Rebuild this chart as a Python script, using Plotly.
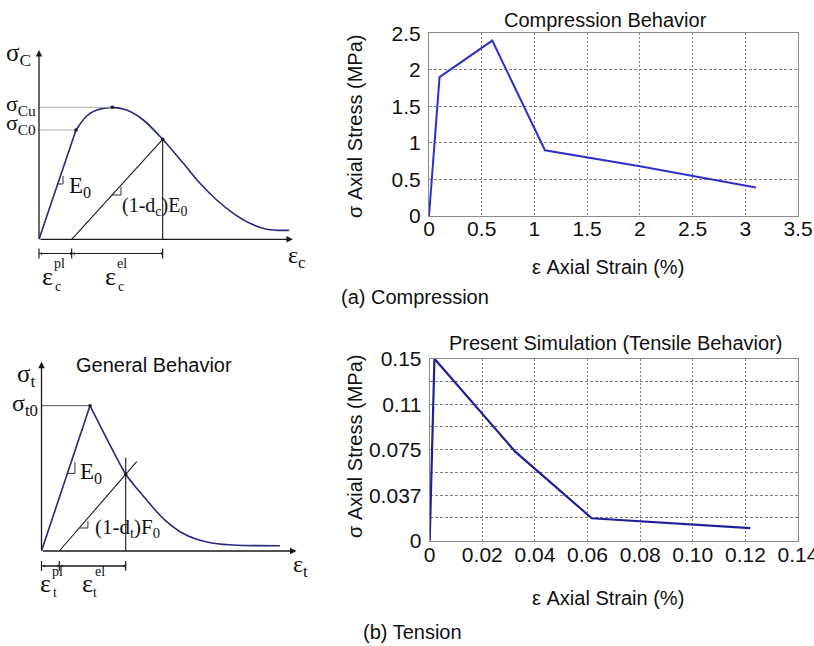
import plotly.graph_objects as go

W, H = 814, 646

# ---------------- data: simulation curves (right panels) ----------------
comp_strain = [0, 0.1, 0.6, 1.1, 2.0, 3.1]
comp_stress = [0, 1.9, 2.4, 0.9, 0.68, 0.39]
comp_xticks = [0, 0.5, 1, 1.5, 2, 2.5, 3, 3.5]
comp_xticktext = ["0", "0.5", "1", "1.5", "2", "2.5", "3", "3.5"]
comp_yticks = [0, 0.5, 1, 1.5, 2, 2.5]
comp_yticktext = ["0", "0.5", "1", "1.5", "2", "2.5"]

ten_strain = [0, 0.0018, 0.0325, 0.0616, 0.1219]
ten_stress = [0, 0.15, 0.0734, 0.0185, 0.0104]
ten_xticks = [0, 0.02, 0.04, 0.06, 0.08, 0.10, 0.12, 0.14]
ten_xticktext = ["0", "0.02", "0.04", "0.06", "0.08", "0.10", "0.12", "0.14"]
ten_yticks = [0, 0.01875, 0.0375, 0.05625, 0.075, 0.09375, 0.1125, 0.13125, 0.15]
ten_yticktext = ["0", "", "0.037", "", "0.075", "", "0.11", "", "0.15"]

# ---------------- data: schematic curves (left panels, normalised units) ----------------
# compression schematic
c_lin_x = [0, 1.464]
c_lin_y = [0, 5.774]
c_crv_x = [1.464, 1.886, 2.282, 2.902, 3.469, 4.129, 4.894, 5.712, 6.371, 7.031, 7.690, 8.350, 9.010, 9.406, 9.90]
c_crv_y = [5.774, 6.513, 6.830, 6.971, 6.830, 6.302, 5.281, 4.013, 2.957, 2.076, 1.372, 0.844, 0.527, 0.474, 0.474]
c_peak = (2.902, 6.971)
c_yield = (1.464, 5.774)
c_unload_x = [1.293, 4.894]
c_unload_y = [0, 5.281]
c_dim_y = -0.75
c_dim_x = [0, 1.293, 4.894]

# tension schematic
t_lin_x = [0, 1.902]
t_lin_y = [0, 7.676]
t_crv_x = [1.902, 3.302, 3.733, 4.125, 4.518, 4.910, 5.431, 6.086, 6.737, 7.655, 9.353]
t_crv_y = [7.676, 4.052, 3.312, 2.694, 2.076, 1.548, 1.020, 0.618, 0.407, 0.301, 0.280]
t_pt = (3.302, 4.052)
t_unload_x = [0.698, 3.733]
t_unload_y = [0, 4.717]
t_vert_top = 4.93
t_dim_y = -0.79
t_dim_x = [0, 0.698, 3.302]

# ---------------- styles ----------------
SANS = "Liberation Sans, Arial, sans-serif"
SERIF = "Liberation Serif, Times New Roman, serif"
NAVY = "#28287c"
BLACK = "#1a1a1a"


def xdom(p0, p1):
    return [p0 / W, p1 / W]


def ydom(top, bot):
    return [1 - bot / H, 1 - top / H]


def px(x):
    return x / W


def py(y):
    return 1 - y / H


fig = go.Figure()

# ---- compression schematic (x, y) ----
fig.add_trace(go.Scatter(x=c_lin_x, y=c_lin_y, mode="lines", line=dict(color=NAVY, width=1.6),
                         xaxis="x", yaxis="y", showlegend=False))
fig.add_trace(go.Scatter(x=c_crv_x, y=c_crv_y, mode="lines", line=dict(color=NAVY, width=1.6, shape="spline", smoothing=0.8),
                         xaxis="x", yaxis="y", showlegend=False))
fig.add_trace(go.Scatter(x=c_unload_x, y=c_unload_y, mode="lines", line=dict(color=BLACK, width=1.1),
                         xaxis="x", yaxis="y", showlegend=False))
fig.add_trace(go.Scatter(x=[c_unload_x[1], c_unload_x[1]], y=[0, c_unload_y[1]], mode="lines",
                         line=dict(color=BLACK, width=1.1), xaxis="x", yaxis="y", showlegend=False))
fig.add_trace(go.Scatter(x=[0, c_peak[0], None, 0, c_yield[0]], y=[c_peak[1], c_peak[1], None, c_yield[1], c_yield[1]],
                         mode="lines", line=dict(color="#b0b0b0", width=1), xaxis="x", yaxis="y", showlegend=False))
fig.add_trace(go.Scatter(x=[c_yield[0], c_peak[0], c_unload_x[1]], y=[c_yield[1], c_peak[1], c_unload_y[1]],
                         mode="markers", marker=dict(color=BLACK, size=3.5), xaxis="x", yaxis="y", showlegend=False))
# slope markers
fig.add_trace(go.Scatter(x=[0.74, 0.95, 0.95, None, 2.888, 3.245, 3.245], y=[2.921, 2.921, 3.344, None, 2.34, 2.34, 2.763],
                         mode="lines", line=dict(color=BLACK, width=0.9), xaxis="x", yaxis="y", showlegend=False))
# dimension ticks
fig.add_trace(go.Scatter(x=c_dim_x, y=[c_dim_y] * 3, mode="lines+markers",
                         line=dict(color=BLACK, width=1.1),
                         marker=dict(symbol="line-ns", size=7, line=dict(color=BLACK, width=1.2)),
                         xaxis="x", yaxis="y", showlegend=False))

# ---- tension schematic (x2, y2) ----
fig.add_trace(go.Scatter(x=t_lin_x, y=t_lin_y, mode="lines", line=dict(color=NAVY, width=1.6),
                         xaxis="x2", yaxis="y2", showlegend=False))
fig.add_trace(go.Scatter(x=t_crv_x, y=t_crv_y, mode="lines", line=dict(color=NAVY, width=1.6, shape="spline", smoothing=0.6),
                         xaxis="x2", yaxis="y2", showlegend=False))
fig.add_trace(go.Scatter(x=t_unload_x, y=t_unload_y, mode="lines", line=dict(color=BLACK, width=1.1),
                         xaxis="x2", yaxis="y2", showlegend=False))
fig.add_trace(go.Scatter(x=[t_pt[0], t_pt[0]], y=[0, t_vert_top], mode="lines",
                         line=dict(color=BLACK, width=1.1), xaxis="x2", yaxis="y2", showlegend=False))
fig.add_trace(go.Scatter(x=[0, t_lin_x[1]], y=[t_lin_y[1], t_lin_y[1]], mode="lines",
                         line=dict(color="#555555", width=1), xaxis="x2", yaxis="y2", showlegend=False))
fig.add_trace(go.Scatter(x=[t_lin_x[1], t_pt[0]], y=[t_lin_y[1], t_pt[1]], mode="markers",
                         marker=dict(color=BLACK, size=3.5), xaxis="x2", yaxis="y2", showlegend=False))
fig.add_trace(go.Scatter(x=[1.03, 1.31, 1.31, None, 1.49, 1.82, 1.82], y=[4.10, 4.10, 4.72, None, 1.215, 1.215, 1.585],
                         mode="lines", line=dict(color=BLACK, width=0.9), xaxis="x2", yaxis="y2", showlegend=False))
fig.add_trace(go.Scatter(x=t_dim_x, y=[t_dim_y] * 3, mode="lines+markers",
                         line=dict(color=BLACK, width=1.1),
                         marker=dict(symbol="line-ns", size=7, line=dict(color=BLACK, width=1.2)),
                         xaxis="x2", yaxis="y2", showlegend=False))

# ---- compression simulation (x3, y3) ----
fig.add_trace(go.Scatter(x=comp_strain, y=comp_stress, mode="lines", line=dict(color="#3030c8", width=2),
                         xaxis="x3", yaxis="y3", showlegend=False, cliponaxis=False))
# ---- tension simulation (x4, y4) ----
fig.add_trace(go.Scatter(x=ten_strain, y=ten_stress, mode="lines", line=dict(color="#1f1f9a", width=2.2),
                         xaxis="x4", yaxis="y4", showlegend=False, cliponaxis=False))

# ---------------- axes ----------------
hidden = dict(visible=False, showgrid=False, zeroline=False, fixedrange=True, automargin=False)

# schematic compression: origin px (39, 239.3), 25.27 px/unit x, 18.93 px/unit y
sx1, sy1, ox1, oy1 = 25.27, 18.93, 39.0, 239.3
# schematic tension: origin px (41.5, 551), 25.5 px/unit x, 18.93 px/unit y
sx2, sy2, ox2, oy2 = 25.5, 18.93, 41.5, 551.0

grid_common = dict(showline=True, linecolor="#8a8a8a", linewidth=1, mirror=True, zeroline=False,
                   showgrid=True, gridcolor="#808080", gridwidth=1, ticks="", fixedrange=True, automargin=False,
                   ticklabeloverflow="allow",
                   tickfont=dict(family=SANS, size=21, color="#111"))

fig.update_layout(
    width=W, height=H, margin=dict(l=0, r=0, t=0, b=0, pad=0, autoexpand=False),
    paper_bgcolor="white", plot_bgcolor="white",
    xaxis=dict(domain=xdom(0, 320), range=[(0 - ox1) / sx1, (320 - ox1) / sx1], anchor="y", **hidden),
    yaxis=dict(domain=ydom(30, 300), range=[(oy1 - 300) / sy1, (oy1 - 30) / sy1], anchor="x", **hidden),
    xaxis2=dict(domain=xdom(0, 320), range=[(0 - ox2) / sx2, (320 - ox2) / sx2], anchor="y2", **hidden),
    yaxis2=dict(domain=ydom(330, 630), range=[(oy2 - 630) / sy2, (oy2 - 330) / sy2], anchor="x2", **hidden),
    xaxis3=dict(domain=xdom(429, 798), range=[0, 3.5], anchor="y3", tickmode="array",
                tickvals=comp_xticks, ticktext=comp_xticktext, griddash="2px,2px", ticklabelstandoff=-6, **grid_common),
    yaxis3=dict(domain=ydom(33.3, 216), range=[0, 2.5], anchor="x3", tickmode="array",
                tickvals=comp_yticks, ticktext=comp_yticktext, griddash="3px,2px", ticklabelstandoff=3, **grid_common),
    xaxis4=dict(domain=xdom(429.7, 798), range=[0, 0.14], anchor="y4", tickmode="array",
                tickvals=ten_xticks, ticktext=ten_xticktext, griddash="2px,2px", ticklabelstandoff=-5, **grid_common),
    yaxis4=dict(domain=ydom(358.7, 540.7), range=[0, 0.15], anchor="x4", tickmode="array",
                tickvals=ten_yticks, ticktext=ten_yticktext, griddash="3px,2px", ticklabelstandoff=3, **grid_common),
)

ann = []


def paper_text(text, x, y, size=19, family=SANS, angle=0, xanchor="center"):
    ann.append(dict(text=text, x=px(x), y=py(y), xref="paper", yref="paper", showarrow=False,
                    xanchor=xanchor, yanchor="middle", textangle=angle,
                    font=dict(family=family, size=size, color="#111")))


def data_text(text, x, y, ax="x", size=21, xanchor="left", yanchor="middle"):
    ann.append(dict(text=text, x=x, y=y, xref=ax, yref=ax.replace("x", "y"), showarrow=False,
                    xanchor=xanchor, yanchor=yanchor,
                    font=dict(family=SERIF, size=size, color="#111")))


def arrow(x0, y0, x1, y1, ax="x", head=2, size=1.0, width=1.3, both=False):
    d = dict(text="", x=x1, y=y1, ax=x0, ay=y0, xref=ax, yref=ax.replace("x", "y"),
             axref=ax, ayref=ax.replace("x", "y"), showarrow=True, arrowhead=head,
             arrowsize=size, arrowwidth=width, arrowcolor=BLACK, standoff=0, startstandoff=0)
    if both:
        d["arrowside"] = "end+start"
        d["startarrowhead"] = head
        d["startarrowsize"] = size
    ann.append(d)


# right panel titles and axis labels
paper_text("Compression Behavior", 605, 20, size=20)
paper_text("ε Axial Strain (%)", 608, 267, size=20)
paper_text("σ Axial Stress (MPa)", 355, 126, size=20, angle=-90)
paper_text("(a) Compression", 415, 297, size=20)

paper_text("Present Simulation (Tensile Behavior)", 616, 343, size=20)
paper_text("ε Axial Strain (%)", 608, 598, size=20)
paper_text("σ Axial Stress (MPa)", 355, 446, size=20, angle=-90)
paper_text("(b) Tension", 412, 632, size=20)

paper_text("General Behavior", 154, 365, size=20)

# compression schematic axes + labels
arrow(0, 0, 0, 10.0, "x")
arrow(0, 0, 10.05, 0, "x")
arrow(0, c_dim_y, c_dim_x[1], c_dim_y, "x", head=1, size=0.5, width=1.1, both=True)
arrow(c_dim_x[1], c_dim_y, c_dim_x[2], c_dim_y, "x", head=1, size=0.5, width=1.1, both=True)
data_text("σ<sub>C</sub>", -1.4, 9.75, "x", size=25)
data_text("σ<sub>Cu</sub>", -0.03, 7.12, "x", size=22, xanchor="right")
data_text("σ<sub>C0</sub>", -0.03, 6.08, "x", size=22, xanchor="right")
data_text("E<sub>0</sub>", 1.12, 2.78, "x", size=23)
data_text("(1-d<sub>c</sub>)E<sub>0</sub>", 3.22, 1.72, "x", size=20)
data_text("ε<sub>c</sub>", 9.78, -0.95, "x", size=24)
data_text("ε", 0.05, -1.95, "x", size=26)
data_text("pl", 0.52, -1.28, "x", size=14)
data_text("c", 0.54, -2.48, "x", size=14)
data_text("ε", 2.55, -1.95, "x", size=26)
data_text("el", 3.02, -1.28, "x", size=14)
data_text("c", 3.04, -2.48, "x", size=14)

# tension schematic axes + labels
arrow(0, 0, 0, 10.0, "x2")
arrow(0, 0, 10.0, 0, "x2")
arrow(0, t_dim_y, t_dim_x[1], t_dim_y, "x2", head=1, size=0.5, width=1.1, both=True)
arrow(t_dim_x[1], t_dim_y, t_dim_x[2], t_dim_y, "x2", head=1, size=0.5, width=1.1, both=True)
data_text("σ<sub>t</sub>", -1.05, 9.25, "x2", size=25)
data_text("σ<sub>t0</sub>", -0.05, 7.72, "x2", size=24, xanchor="right")
data_text("E<sub>0</sub>", 1.42, 4.1, "x2", size=23)
data_text("(1-d<sub>t</sub>)F<sub>0</sub>", 2.0, 1.22, "x2", size=21)
data_text("ε<sub>t</sub>", 9.8, -0.8, "x2", size=24)
data_text("ε", -0.15, -1.7, "x2", size=26)
data_text("pl", 0.33, -1.1, "x2", size=14)
data_text("t", 0.38, -2.2, "x2", size=14)
data_text("ε", 1.52, -1.7, "x2", size=26)
data_text("el", 2.0, -1.1, "x2", size=14)
data_text("t", 1.95, -2.2, "x2", size=14)

fig.update_layout(annotations=ann)

fig.write_html("out.html", config={"displayModeBar": False, "staticPlot": True},
               post_script="document.body.style.margin='0';document.body.style.overflow='hidden';")
